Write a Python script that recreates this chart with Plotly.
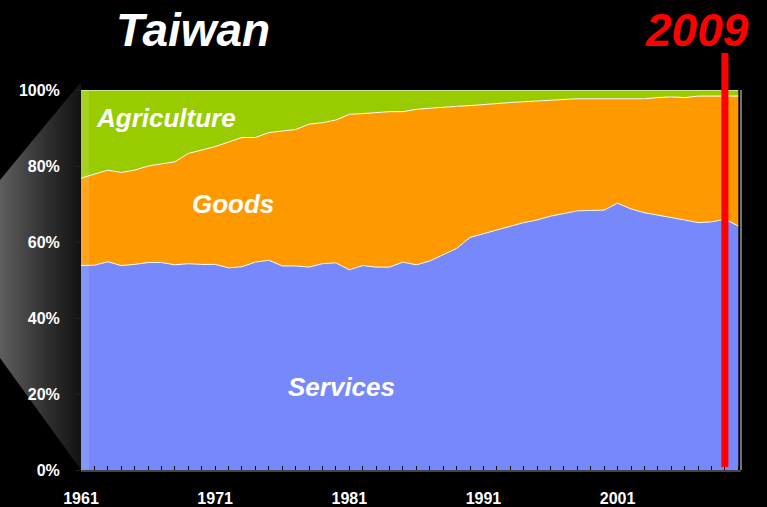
import plotly.graph_objects as go

W, H = 767, 507

years = list(range(1961, 2011))

# Share of GDP held by services (bottom band), in percent
services = [53.8, 53.9, 54.8, 53.8, 54.1, 54.6, 54.6, 54.0, 54.3, 54.1,
            54.1, 53.2, 53.5, 54.7, 55.2, 53.7, 53.7, 53.4, 54.3, 54.5,
            52.7, 53.8, 53.4, 53.4, 54.7, 54.0, 55.0, 56.6, 58.3, 61.2,
            62.2, 63.2, 64.0, 65.1, 65.8, 66.8, 67.5, 68.2, 68.3, 68.4,
            70.2, 68.7, 67.7, 67.1, 66.5, 65.8, 65.1, 65.3, 66.0, 64.2]

# Services + goods combined (top of the goods band), in percent
services_goods = [76.8, 77.9, 78.9, 78.3, 78.9, 80.0, 80.6, 81.1, 83.3, 84.2,
                  85.1, 86.3, 87.5, 87.5, 88.8, 89.2, 89.6, 91.0, 91.4, 92.1,
                  93.6, 93.8, 94.0, 94.3, 94.3, 94.9, 95.2, 95.5, 95.7, 95.9,
                  96.2, 96.5, 96.7, 96.9, 97.1, 97.3, 97.5, 97.7, 97.7, 97.7,
                  97.7, 97.7, 97.7, 98.0, 98.2, 98.0, 98.4, 98.4, 98.4, 98.4]

goods = [round(t - s, 1) for t, s in zip(services_goods, services)]
agriculture = [round(100 - t, 1) for t in services_goods]

x_ticks = [1961, 1971, 1981, 1991, 2001]
y_ticks = [0, 20, 40, 60, 80, 100]
y_text = [f"{v}%" for v in y_ticks]
highlight_year = 2009

# plot-area placement in pixels
L, R, T, B = 81, 741, 90, 470


def px_x(p):
    return p / W


def px_y(p):
    return 1 - p / H


fig = go.Figure()

# grey "zoom" wedge on the left, drawn in a full-page pixel frame
fig.add_trace(go.Scatter(
    x=[0, 0, 81, 81, 0], y=[180, 180, 82, 470, 358],
    mode="lines", line=dict(width=0), fill="toself",
    fillgradient=dict(type="horizontal",
                      colorscale=[[0, "#5e5e5e"], [0.6, "#2e2e2e"], [1, "#121212"]]),
    hoverinfo="skip", showlegend=False, xaxis="x", yaxis="y"))

series = [
    ("Services", services, "#7788FA"),
    ("Goods", goods, "#FF9900"),
    ("Agriculture", agriculture, "#99CC00"),
]
for name, vals, col in series:
    fig.add_trace(go.Scatter(
        x=years, y=vals, name=name, stackgroup="one",
        mode="lines", line=dict(color="white", width=1),
        fillcolor=col, showlegend=False, xaxis="x2", yaxis="y2"))

tick_font = dict(size=16, color="white", family="Liberation Sans, Arial", weight="bold")

fig.update_layout(
    width=W, height=H,
    margin=dict(l=0, r=0, t=0, b=0, autoexpand=False),
    paper_bgcolor="black", plot_bgcolor="black",
    font=dict(family="Liberation Sans, Arial, sans-serif", color="white"),
    xaxis=dict(domain=[0, 1], range=[0, W], visible=False, fixedrange=True,
               automargin=False),
    yaxis=dict(domain=[0, 1], range=[H, 0], visible=False, fixedrange=True,
               automargin=False),
    xaxis2=dict(
        domain=[px_x(L), px_x(R)], anchor="y2", range=[1961, 2010.2],
        tickvals=x_ticks, ticks="inside", ticklen=4, tickcolor="#111",
        minor=dict(dtick=1, tick0=1961, ticks="inside", ticklen=4, tickcolor="#111"),
        showline=True, linecolor="#444", linewidth=2,
        showgrid=False, zeroline=False, automargin=False,
        tickfont=tick_font, ticklabelstandoff=13),
    yaxis2=dict(
        domain=[px_y(B), px_y(T)], anchor="x2", range=[0, 100],
        tickvals=y_ticks, ticktext=y_text, ticks="outside", ticklen=4,
        tickcolor="#222", showline=False, showgrid=False, zeroline=False,
        automargin=False, tickfont=tick_font, ticklabelstandoff=13),
    showlegend=False,
)

bold_italic = "<b><i>{}</i></b>"
annots = [
    ("Taiwan", 193, 30, 46, "white"),
    (str(highlight_year), 697, 30, 46, "#FF0000"),
    ("Agriculture", 166, 118, 26, "white"),
    ("Goods", 233, 204, 26, "white"),
    ("Services", 341, 387, 26, "white"),
]
for txt, ax, ay, sz, col in annots:
    fig.add_annotation(
        text=bold_italic.format(txt), xref="paper", yref="paper",
        x=px_x(ax), y=px_y(ay), showarrow=False,
        xanchor="center", yanchor="middle",
        font=dict(size=sz, color=col, family="Liberation Sans, Arial"))

# light sheen on the left edge of the plot area
fig.add_shape(type="rect", xref="paper", yref="paper",
              x0=px_x(L), x1=px_x(89), y0=px_y(B), y1=px_y(T),
              fillcolor="rgba(255,255,255,0.12)", line=dict(width=0), layer="above")
# right border of the plot area
fig.add_shape(type="line", xref="paper", yref="paper",
              x0=px_x(R), x1=px_x(R), y0=px_y(B), y1=px_y(T),
              line=dict(color="#999", width=1.5), layer="above")
# marker for the highlighted year
fig.add_shape(type="line", xref="x2", yref="paper",
              x0=highlight_year, x1=highlight_year,
              y0=px_y(467), y1=px_y(53),
              line=dict(color="#FF0000", width=7), layer="above")

fig.write_html("out.html")
